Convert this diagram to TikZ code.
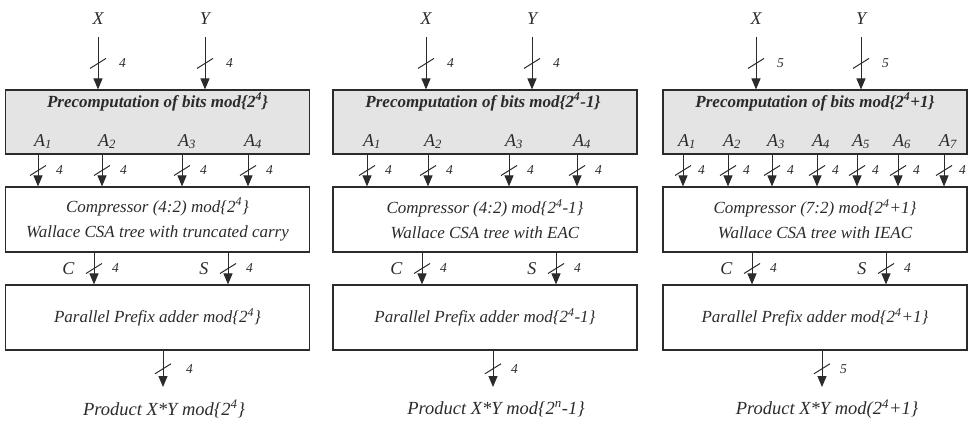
\documentclass[tikz,border=0pt]{standalone}
\usepackage{fontspec}
\setmainfont{Liberation Serif}
\usetikzlibrary{arrows.meta,positioning}

\definecolor{ink}{HTML}{2B2B2B}
\definecolor{prefill}{HTML}{E4E4E4}

\tikzset{
  sig/.style={draw=ink, line width=1pt, -{Triangle[length=11pt,width=9pt]}},
  tick/.style={draw=ink, line width=1pt},
  blk/.style={draw=ink, line width=1.1pt, minimum width=304pt, minimum height=65pt,
    inner sep=0pt, align=center, text=ink, font=\fontsize{17}{25}\selectfont\itshape},
  pre/.style={blk, fill=prefill, minimum height=64pt},
  ttl/.style={text=ink, font=\fontsize{17}{20}\selectfont\bfseries\itshape},
  lbl/.style={text=ink, font=\fontsize{18}{21}\selectfont\itshape},
  res/.style={text=ink, font=\fontsize{18.5}{22}\selectfont\itshape},
  num/.style={text=ink, inner sep=1pt, font=\fontsize{13.5}{15}\selectfont\itshape}
}

\newcommand{\bus}[4][17]{%
  \draw[sig] (#2) -- coordinate (m) (#3);
  \draw[tick] ([shift={(-8,5)}]m) -- ([shift={(8,-5)}]m);
  \node[num,anchor=west] at ([xshift=#1]m) {#4};}

\begin{document}
\begin{tikzpicture}[x=1pt,y=-1pt]
  \useasboundingbox (0,0) rectangle (975,423);

  % mod 2^4
  \node[pre] (p1) at (157.5,122) {};
  \node[ttl] at (157.5,102) {Precomputation of bits mod\{2\textsuperscript{4}\}};
  \node[blk] (c1) at (157.5,219.5) {Compressor (4:2) mod\{2\textsuperscript{4}\}\\Wallace CSA tree with truncated carry};
  \node[blk] (s1) at (157.5,317.5) {Parallel Prefix adder mod\{2\textsuperscript{4}\}};
  \node[lbl] (x1) at (98,19) {X};
  \node[lbl] (y1) at (205,19) {Y};
  \bus[20]{[yshift=-9pt]x1.south}{x1 |- p1.north}{4}
  \bus[20]{[yshift=-9pt]y1.south}{y1 |- p1.north}{4}
  \foreach \x [count=\i] in {38,102,182,248}{
    \coordinate (a1\i) at (\x,146);
    \node[lbl,anchor=base] at ([xshift=5pt]a1\i) {A\textsubscript{\i}};
    \bus{a1\i |- p1.south}{a1\i |- c1.north}{4}
  }
  \coordinate (ca1) at (94,269);
  \coordinate (sa1) at (228,269);
  \node[lbl,left=16pt of ca1] {C};
  \node[lbl,left=16pt of sa1] {S};
  \bus{ca1 |- c1.south}{ca1 |- s1.north}{4}
  \bus{sa1 |- c1.south}{sa1 |- s1.north}{4}
  \coordinate (o1) at (163,387);
  \bus[22]{o1 |- s1.south}{o1}{4}
  \node[res] (r1) at (164,409) {Product X*Y mod\{2\textsuperscript{4}\}};

  % mod 2^4-1
  \node[pre] (p2) at (485,122) {};
  \node[ttl] at (483,102) {Precomputation of bits mod\{2\textsuperscript{4}-1\}};
  \node[blk] (c2) at (485,219.5) {Compressor (4:2) mod\{2\textsuperscript{4}-1\}\\Wallace CSA tree with EAC};
  \node[blk] (s2) at (485,317.5) {Parallel Prefix adder mod\{2\textsuperscript{4}-1\}};
  \node[lbl] (x2) at (426,19) {X};
  \node[lbl] (y2) at (532,19) {Y};
  \bus[20]{[yshift=-9pt]x2.south}{x2 |- p2.north}{4}
  \bus[20]{[yshift=-9pt]y2.south}{y2 |- p2.north}{4}
  \foreach \x [count=\i] in {367,428,509,577}{
    \coordinate (a2\i) at (\x,146);
    \node[lbl,anchor=base] at ([xshift=5pt]a2\i) {A\textsubscript{\i}};
    \bus{a2\i |- p2.south}{a2\i |- c2.north}{4}
  }
  \coordinate (ca2) at (422,269);
  \coordinate (sa2) at (556,269);
  \node[lbl,left=16pt of ca2] {C};
  \node[lbl,left=16pt of sa2] {S};
  \bus{ca2 |- c2.south}{ca2 |- s2.north}{4}
  \bus{sa2 |- c2.south}{sa2 |- s2.north}{4}
  \coordinate (o2) at (493,387);
  \bus{o2 |- s2.south}{o2}{4}
  \node[res] (r2) at (496,409) {Product X*Y mod\{2\textsuperscript{n}-1\}};

  % mod 2^4+1
  \node[pre] (p3) at (815,122) {};
  \node[ttl] at (815,102) {Precomputation of bits mod\{2\textsuperscript{4}+1\}};
  \node[blk] (c3) at (815,219.5) {Compressor (7:2) mod\{2\textsuperscript{4}+1\}\\Wallace CSA tree with IEAC};
  \node[blk] (s3) at (815,317.5) {Parallel Prefix adder mod\{2\textsuperscript{4}+1\}};
  \node[lbl] (x3) at (756,19) {X};
  \node[lbl] (y3) at (861,19) {Y};
  \bus[20]{[yshift=-9pt]x3.south}{x3 |- p3.north}{5}
  \bus[20]{[yshift=-9pt]y3.south}{y3 |- p3.north}{5}
  \foreach \x [count=\i] in {683,728,772,817,857,898,944}{
    \coordinate (a3\i) at (\x,146);
    \node[lbl,anchor=base] at ([xshift=4pt]a3\i) {A\textsubscript{\i}};
    \bus[14]{a3\i |- p3.south}{a3\i |- c3.north}{4}
  }
  \coordinate (ca3) at (752,269);
  \coordinate (sa3) at (886,269);
  \node[lbl,left=16pt of ca3] {C};
  \node[lbl,left=16pt of sa3] {S};
  \bus{ca3 |- c3.south}{ca3 |- s3.north}{4}
  \bus{sa3 |- c3.south}{sa3 |- s3.north}{4}
  \coordinate (o3) at (822,387);
  \bus{o3 |- s3.south}{o3}{5}
  \node[res] (r3) at (827,409) {Product X*Y mod(2\textsuperscript{4}+1\}};
\end{tikzpicture}
\end{document}
